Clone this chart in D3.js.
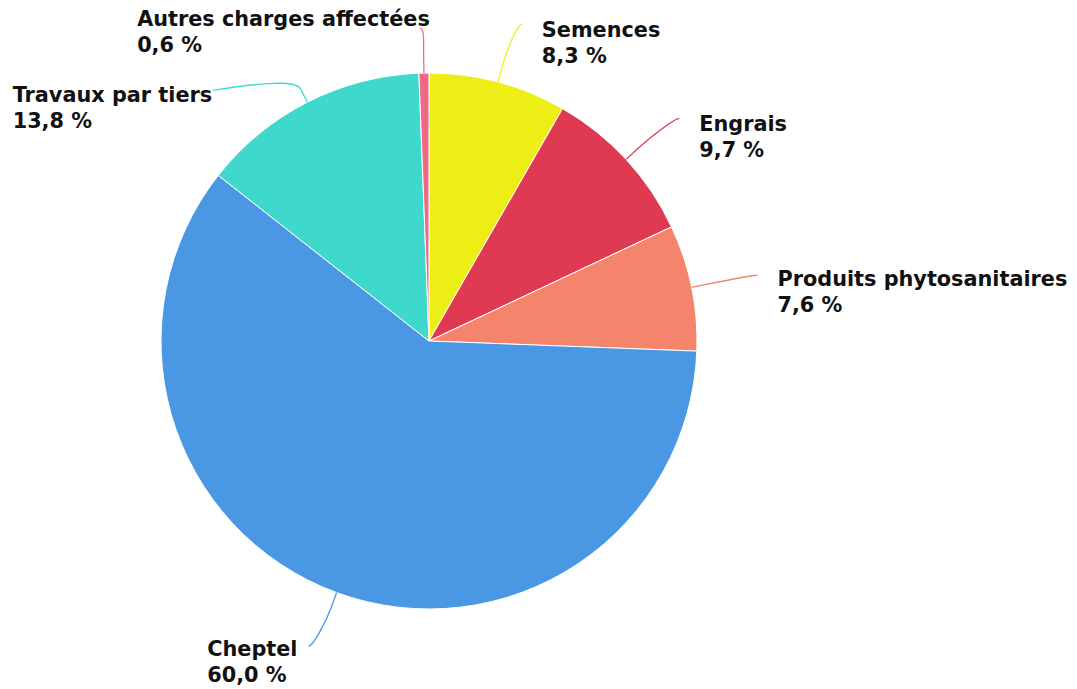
<!DOCTYPE html>
<html>
<head>
<meta charset="utf-8">
<script src="https://cdn.jsdelivr.net/npm/d3@7"></script>
<style>
  body { margin: 0; background: #fff; }
  svg { display: block; }
  .lbl { font-family: "DejaVu Sans", sans-serif; font-weight: bold; font-size: 20.8px; fill: #111; }
</style>
</head>
<body>
<svg id="chart" width="1077" height="689"></svg>
<script>
const categories = ["Semences", "Engrais", "Produits phytosanitaires", "Cheptel", "Travaux par tiers", "Autres charges affectées"];
const shares = [8.3, 9.7, 7.6, 60.0, 13.8, 0.6];
const sliceColors = ["#eeee17", "#e03a52", "#f4846c", "#4a97e3", "#3fd8cc", "#f06a86"];

const svg = d3.select("#chart");
const center = { x: 429, y: 341 };
const radius = 268;
const labelRadius = 333;
const lineHeight = 26;

// manual label tweaks (angle shift in degrees, radius, text shift)
const nudge = {
  "Semences": { da: 1.4, r: 330 },
  "Engrais": { da: 1, r: 335 },
  "Produits phytosanitaires": { da: 0.2, r: 335, dy: -2 },
  "Cheptel": { da: 1.4, r: 328, dx: -5, dy: -1 },
  "Travaux par tiers": { da: -13.7, r: 331, dx: 5, dy: 1 },
  "Autres charges affectées": { da: -0.6, r: 313, above: true },
};

const pie = d3.pie().sort(null).value((d) => d);
const arcs = pie(shares);
const arc = d3.arc().innerRadius(0).outerRadius(radius);

const g = svg.append("g").attr("transform", `translate(${center.x},${center.y})`);

g.selectAll("path.slice")
  .data(arcs)
  .join("path")
  .attr("class", "slice")
  .attr("d", arc)
  .attr("fill", (d, i) => sliceColors[i])
  .attr("stroke", "#fff")
  .attr("stroke-width", 1);

const polar = (a, r) => [r * Math.sin(a), -r * Math.cos(a)];
const fmt = (v) => d3.format(".1f")(v).replace(".", ",") + " %";

arcs.forEach((d, i) => {
  const name = categories[i];
  const mid = (d.startAngle + d.endAngle) / 2;
  const n = nudge[name] || {};
  const la = mid + ((n.da || 0) * Math.PI) / 180;
  const [lx, ly] = polar(la, n.r || labelRadius);
  const [tx, ty] = polar(mid, radius);
  const [bx, by] = polar(mid, radius + 15);
  const rightSide = lx > 0;
  const c1x = lx + (rightSide ? -5 : 5);

  g.append("path")
    .attr(
      "d",
      `M${lx},${ly} C${c1x},${ly} ${2 * bx - tx},${2 * by - ty} ${bx},${by} L${tx},${ty}`
    )
    .attr("fill", "none")
    .attr("stroke", sliceColors[i])
    .attr("stroke-width", 1.3);

  let textX, baseY, anchor;
  if (n.above) {
    textX = lx + 10;
    baseY = ly - 2;
    anchor = "end";
  } else if (rightSide) {
    textX = lx + 20;
    baseY = ly + 13;
    anchor = "start";
  } else {
    textX = lx - 6;
    baseY = ly + 11;
    anchor = "end";
  }
  textX += n.dx || 0;
  baseY += n.dy || 0;

  const t = g.append("text")
    .attr("class", "lbl")
    .attr("x", textX)
    .attr("y", baseY)
    .attr("text-anchor", anchor);
  t.append("tspan").attr("x", textX).text(name);
  t.append("tspan").attr("x", textX).attr("dy", lineHeight).text(fmt(shares[i]));
  // second line sits flush with the first line's left edge
  if (anchor === "end") {
    const w = t.select("tspan").node().getComputedTextLength();
    t.attr("text-anchor", "start");
    t.selectAll("tspan").attr("x", textX - w);
  }
});
</script>
</body>
</html>
